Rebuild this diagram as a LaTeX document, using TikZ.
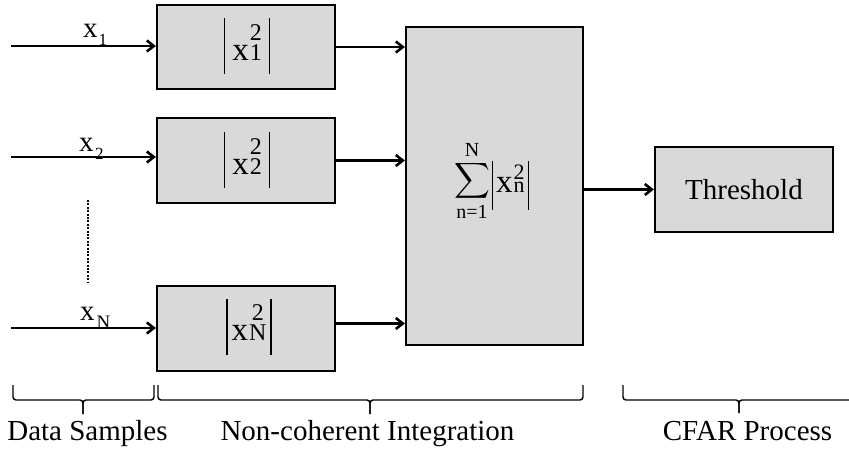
\documentclass[tikz,border=0pt]{standalone}
\usepackage{fontspec}
\setmainfont{Liberation Serif}
\usepackage{amsmath}
\DeclareMathSizes{33}{33}{20}{15}
\usetikzlibrary{arrows.meta}
\definecolor{boxgray}{RGB}{217,217,217}
\newcommand{\supsub}[2]{{\fontsize{24}{10}\selectfont\begin{tabular}[b]{@{}c@{}}#1\\[1pt]#2\end{tabular}}}
\newcommand{\supsubs}[2]{{\fontsize{22}{8}\selectfont\begin{tabular}[b]{@{}c@{}}#1\\[0.5pt]#2\end{tabular}}}
\newcommand{\vbar}[2]{\rule[-#1]{1.2pt}{#2}}
\newcommand{\absx}[3]{\vbar{14pt}{56pt}\kern#3 x\kern1pt\supsub{#1}{#2}\kern#3\vbar{14pt}{56pt}}
\begin{document}
\begin{tikzpicture}[x=1pt,y=-1pt,
  blk/.style={draw=black, line width=2.2pt, fill=boxgray, inner sep=0pt,
    font=\fontsize{29}{35}\selectfont},
  frm/.style={inner sep=0pt, font=\fontsize{33}{40}\selectfont},
  arr/.style={line width=2.6pt, -{Straight Barb[length=7pt,width=11pt]}},
  br/.style={line width=1.4pt, rounded corners=3pt},
  lbl/.style={inner sep=0pt, font=\fontsize{29}{35}\selectfont}
]
\path[use as bounding box] (0,0) rectangle (849,450);
\clip (0,0) rectangle (849,450);

% blocks
\node[blk, minimum width=178pt, minimum height=84pt] (b1) at (246,47) {};
\node[blk, minimum width=178pt, minimum height=85pt] (b2) at (246,160.5) {};
\node[blk, minimum width=178pt, minimum height=85pt] (bN) at (246,328.5) {};
\node[blk, minimum width=177pt, minimum height=318pt] (big) at (494.5,186) {};
\node[blk, minimum width=178pt, minimum height=85pt] (thr) at (744,189.5) {Threshold};

% formulas
\node[frm] (f1) at (247,46) {\absx{2}{1}{7pt}};
\node[frm] (f2) at (247,160) {\absx{2}{2}{7pt}};
\node[frm] (fN) at (249,326.5) {\absx{2}{N}{4pt}};
\node[frm] (sum) at (491.5,181)
  {\raisebox{5pt}{$\displaystyle\sum_{\text{n=1}}^{\text{N}}$}\kern2pt\vbar{17pt}{49pt}\kern3pt x\kern1pt\supsubs{2}{n}\kern3pt\vbar{17pt}{49pt}};

% inputs
\coordinate (i1) at (11,46);
\coordinate (i2) at (11,157);
\coordinate (iN) at (11,328);
\draw[arr] (i1) -- (i1 -| b1.west);
\draw[arr] (i2) -- (i2 -| b2.west);
\draw[arr] (iN) -- (iN -| bN.west);

% input labels
\node[lbl, anchor=base west] (l1) at (83,37) {x\kern1pt\raisebox{-8pt}{\fontsize{17}{17}\selectfont 1}};
\node[lbl, anchor=base west] (l2) at (79,151) {x\kern1.5pt\raisebox{-8pt}{\fontsize{17}{17}\selectfont 2}};
\node[lbl, anchor=base west] (lN) at (80,320) {x\kern2pt\raisebox{-8pt}{\fontsize{19}{19}\selectfont N}};

% dotted
\coordinate (d1) at (88,200);
\coordinate (d2) at (88,282);
\draw[line width=2.2pt, dash pattern=on 2pt off 1.4pt] (d1) -- (d2);

% outputs
\draw[arr] (b1.east) -- (b1.east -| big.west);
\draw[arr] (b2.east) -- (b2.east -| big.west);
\draw[arr] ([yshift=5pt]bN.east) -- ([yshift=5pt]bN.east -| big.west);
\draw[arr] (big.east |- thr.west) -- (thr.west);

% braces
\draw[br] (13,385) |- (83,400) -- (83,414);
\draw[br] (154,385) |- (83,400) -- (83,414);
\draw[br] (158,385) |- (370,400) -- (370,414);
\draw[br] (583,385) |- (370,400) -- (370,414);
\draw[br] (623,385) |- (739,400) -- (739,413);
\draw[br] (855,385) |- (739,400) -- (739,413);

% group labels
\node[lbl, anchor=base] (ds) at (87.5,440) {Data Samples};
\node[lbl, anchor=base] (nc) at (367.5,440) {Non-coherent Integration};
\node[lbl, anchor=base] (cf) at (747.5,440) {CFAR Process};
\end{tikzpicture}
\end{document}
